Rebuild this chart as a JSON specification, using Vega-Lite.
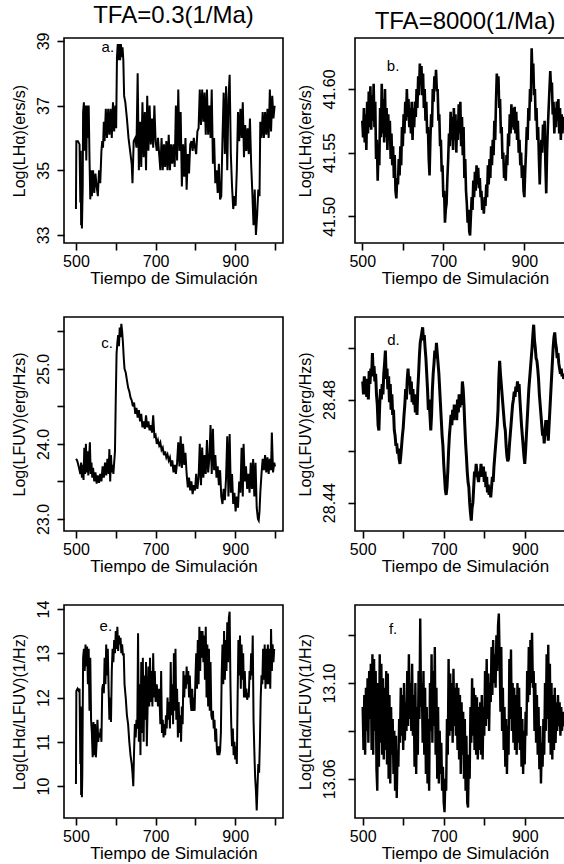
{
"$schema": "https://vega.github.io/schema/vega-lite/v6.json",
"padding": {"left": 10, "top": 3, "right": 0, "bottom": 0},
"background": "white",
"config": {
  "font": "Liberation Sans",
  "view": {"stroke": "#000", "strokeWidth": 1.6},
  "axis": {"grid": false, "domain": false, "tickColor": "#000", "tickWidth": 1.6, "tickSize": 7, "labelColor": "#000", "titleColor": "#000", "labelFontSize": 16, "titleFontSize": 17, "titleFontWeight": "normal", "labelOverlap": false, "labelFlush": false},
  "axisX": {"labelPadding": 3, "titlePadding": 1},
  "axisY": {"labelAngle": 270, "labelPadding": 6, "titlePadding": 8, "titleFontSize": 16},
  "title": {"fontSize": 24, "fontWeight": "normal", "color": "#000", "offset": 4},
  "text": {"fontSize": 15, "color": "#000"},
  "line": {"color": "#000", "strokeWidth": 2.0}
},
"concat": [
 {"width": 219, "height": 205, "title": "TFA=0.3(1/Ma)",
  "layer": [
   {"data": {"name": "a"}, "mark": {"type": "line", "clip": true},
    "encoding": {
     "x": {"field": "t", "type": "quantitative", "scale": {"domain": [470, 1020], "nice": false, "zero": false}, "axis": {"values": [500,600,700,800,900,1000], "format": "d", "labelExpr": "datum.value==500||datum.value==700||datum.value==900 ? datum.label : ''", "title": "Tiempo de Simulación"}},
     "y": {"field": "v", "type": "quantitative", "scale": {"domain": [32.75, 39.09], "nice": false, "zero": false}, "axis": {"values": [33,34,35,36,37,38,39], "format": "d", "labelExpr": "datum.value % 2 == 1 ? datum.label : ''", "title": "Log(LHα)(ers/s)"}}}},
   {"data": {"values": [{"t": 580, "v": 38.81, "lab": "a."}]}, "mark": {"type": "text"},
    "encoding": {"x": {"field": "t", "type": "quantitative"}, "y": {"field": "v", "type": "quantitative"}, "text": {"field": "lab"}}}
  ]},
 {"width": 220, "height": 205, "title": "TFA=8000(1/Ma)",
  "layer": [
   {"data": {"name": "b"}, "mark": {"type": "line", "clip": true, "strokeWidth": 2.6},
    "encoding": {
     "x": {"field": "t", "type": "quantitative", "scale": {"domain": [482, 1025], "nice": false, "zero": false}, "axis": {"values": [500,600,700,800,900,1000], "format": "d", "labelExpr": "datum.value==500||datum.value==700||datum.value==900 ? datum.label : ''", "title": "Tiempo de Simulación"}},
     "y": {"field": "v", "type": "quantitative", "scale": {"domain": [41.479, 41.64], "nice": false, "zero": false}, "axis": {"values": [41.5, 41.55, 41.6], "format": ".2f", "labelPadding": 11, "title": "Log(LHα)(ers/s)"}}}},
   {"data": {"values": [{"t": 576, "v": 41.618, "lab": "b."}]}, "mark": {"type": "text"},
    "encoding": {"x": {"field": "t", "type": "quantitative"}, "y": {"field": "v", "type": "quantitative"}, "text": {"field": "lab"}}}
  ]},
 {"width": 219, "height": 214,
  "layer": [
   {"data": {"name": "c"}, "mark": {"type": "line", "clip": true},
    "encoding": {
     "x": {"field": "t", "type": "quantitative", "scale": {"domain": [470, 1020], "nice": false, "zero": false}, "axis": {"values": [500,600,700,800,900,1000], "format": "d", "labelExpr": "datum.value==500||datum.value==700||datum.value==900 ? datum.label : ''", "title": "Tiempo de Simulación"}},
     "y": {"field": "v", "type": "quantitative", "scale": {"domain": [22.84, 25.69], "nice": false, "zero": false}, "axis": {"values": [23, 23.5, 24, 24.5, 25, 25.5], "format": ".1f", "labelExpr": "datum.value % 1 == 0 ? datum.label : ''", "title": "Log(LFUV)(erg/Hzs)"}}}},
   {"data": {"values": [{"t": 578, "v": 25.35, "lab": "c."}]}, "mark": {"type": "text"},
    "encoding": {"x": {"field": "t", "type": "quantitative"}, "y": {"field": "v", "type": "quantitative"}, "text": {"field": "lab"}}}
  ]},
 {"width": 220, "height": 214,
  "layer": [
   {"data": {"name": "d"}, "mark": {"type": "line", "clip": true, "strokeWidth": 3.0},
    "encoding": {
     "x": {"field": "t", "type": "quantitative", "scale": {"domain": [481, 1024], "nice": false, "zero": false}, "axis": {"values": [500,600,700,800,900,1000], "format": "d", "labelExpr": "datum.value==500||datum.value==700||datum.value==900 ? datum.label : ''", "title": "Tiempo de Simulación"}},
     "y": {"field": "v", "type": "quantitative", "scale": {"domain": [28.429, 28.512], "nice": false, "zero": false}, "axis": {"values": [28.44, 28.46, 28.48, 28.5], "format": ".2f", "labelPadding": 11, "labelExpr": "abs(datum.value-28.44)<0.001 || abs(datum.value-28.48)<0.001 ? datum.label : ''", "title": "Log(LFUV)(erg/Hzs)"}}}},
   {"data": {"values": [{"t": 576, "v": 28.5032, "lab": "d."}]}, "mark": {"type": "text"},
    "encoding": {"x": {"field": "t", "type": "quantitative"}, "y": {"field": "v", "type": "quantitative"}, "text": {"field": "lab"}}}
  ]},
 {"width": 219, "height": 213,
  "layer": [
   {"data": {"name": "e"}, "mark": {"type": "line", "clip": true},
    "encoding": {
     "x": {"field": "t", "type": "quantitative", "scale": {"domain": [470, 1020], "nice": false, "zero": false}, "axis": {"values": [500,600,700,800,900,1000], "format": "d", "labelExpr": "datum.value==500||datum.value==700||datum.value==900 ? datum.label : ''", "title": "Tiempo de Simulación"}},
     "y": {"field": "v", "type": "quantitative", "scale": {"domain": [9.28, 14.09], "nice": false, "zero": false}, "axis": {"values": [10, 11, 12, 13, 14], "format": "d", "title": "Log(LHα/LFUV)(1/Hz)"}}}},
   {"data": {"values": [{"t": 575, "v": 13.62, "lab": "e."}]}, "mark": {"type": "text"},
    "encoding": {"x": {"field": "t", "type": "quantitative"}, "y": {"field": "v", "type": "quantitative"}, "text": {"field": "lab"}}}
  ]},
 {"width": 220, "height": 213,
  "layer": [
   {"data": {"name": "f"}, "mark": {"type": "line", "clip": true, "strokeWidth": 2.4},
    "encoding": {
     "x": {"field": "t", "type": "quantitative", "scale": {"domain": [481, 1024], "nice": false, "zero": false}, "axis": {"values": [500,600,700,800,900,1000], "format": "d", "labelExpr": "datum.value==500||datum.value==700||datum.value==900 ? datum.label : ''", "title": "Tiempo de Simulación"}},
     "y": {"field": "v", "type": "quantitative", "scale": {"domain": [13.0436, 13.1326], "nice": false, "zero": false}, "axis": {"values": [13.06, 13.08, 13.1, 13.12], "format": ".2f", "labelPadding": 11, "labelExpr": "abs(datum.value-13.06)<0.001 || abs(datum.value-13.1)<0.001 ? datum.label : ''", "title": "Log(LHα/LFUV)(1/Hz)"}}}},
   {"data": {"values": [{"t": 575, "v": 13.1225, "lab": "f."}]}, "mark": {"type": "text"},
    "encoding": {"x": {"field": "t", "type": "quantitative"}, "y": {"field": "v", "type": "quantitative"}, "text": {"field": "lab"}}}
  ]}
],
"columns": 2,
"spacing": {"row": 74, "column": 72},
"bounds": "flush",
"datasets": {
"a": [{"t":500,"v":33.8},{"t":501,"v":35.9},{"t":505,"v":35.9},{"t":509,"v":35.8},{"t":511,"v":34.0},{"t":512,"v":35.6},{"t":513,"v":33.3},{"t":514,"v":35.0},{"t":515,"v":33.2},{"t":517,"v":34.5},{"t":518,"v":36.8},{"t":520,"v":37.1},{"t":522,"v":35.6},{"t":524,"v":37.0},{"t":526,"v":35.3},{"t":528,"v":37.0},{"t":530,"v":36.0},{"t":532,"v":37.0},{"t":534,"v":35.4},{"t":536,"v":34.1},{"t":538,"v":35.0},{"t":540,"v":34.2},{"t":543,"v":35.0},{"t":546,"v":34.3},{"t":549,"v":34.9},{"t":552,"v":34.5},{"t":555,"v":34.2},{"t":558,"v":35.0},{"t":561,"v":34.6},{"t":564,"v":35.6},{"t":566,"v":35.9},{"t":568,"v":35.7},{"t":570,"v":36.5},{"t":572,"v":35.9},{"t":575,"v":36.9},{"t":578,"v":36.0},{"t":581,"v":36.9},{"t":584,"v":36.1},{"t":587,"v":36.9},{"t":590,"v":36.0},{"t":593,"v":37.1},{"t":596,"v":36.2},{"t":599,"v":37.0},{"t":601,"v":36.3},{"t":603,"v":38.5},{"t":605,"v":38.9},{"t":607,"v":38.4},{"t":609,"v":38.9},{"t":611,"v":38.4},{"t":613,"v":38.9},{"t":615,"v":38.5},{"t":617,"v":38.8},{"t":619,"v":38.4},{"t":621,"v":37.3},{"t":624,"v":37.1},{"t":628,"v":36.6},{"t":632,"v":36.0},{"t":636,"v":35.6},{"t":640,"v":35.2},{"t":642,"v":34.6},{"t":645,"v":35.9},{"t":649,"v":36.0},{"t":652,"v":35.7},{"t":655,"v":38.0},{"t":658,"v":35.0},{"t":661,"v":36.5},{"t":664,"v":35.1},{"t":667,"v":37.1},{"t":670,"v":35.4},{"t":673,"v":36.8},{"t":676,"v":35.0},{"t":679,"v":37.3},{"t":682,"v":35.6},{"t":685,"v":37.0},{"t":688,"v":35.8},{"t":691,"v":36.6},{"t":694,"v":35.7},{"t":697,"v":37.0},{"t":700,"v":35.9},{"t":703,"v":35.6},{"t":706,"v":36.0},{"t":709,"v":35.5},{"t":712,"v":35.0},{"t":715,"v":36.0},{"t":718,"v":35.0},{"t":721,"v":35.8},{"t":724,"v":35.1},{"t":727,"v":35.9},{"t":730,"v":35.0},{"t":733,"v":36.1},{"t":736,"v":35.0},{"t":739,"v":35.8},{"t":742,"v":35.2},{"t":745,"v":35.8},{"t":748,"v":35.1},{"t":751,"v":37.0},{"t":754,"v":35.3},{"t":757,"v":37.5},{"t":760,"v":35.6},{"t":763,"v":36.8},{"t":766,"v":34.5},{"t":769,"v":35.8},{"t":772,"v":34.8},{"t":775,"v":36.0},{"t":778,"v":34.4},{"t":781,"v":35.5},{"t":784,"v":34.9},{"t":787,"v":35.8},{"t":790,"v":35.9},{"t":793,"v":35.6},{"t":796,"v":36.0},{"t":799,"v":35.7},{"t":802,"v":35.5},{"t":805,"v":36.2},{"t":808,"v":36.3},{"t":811,"v":37.5},{"t":814,"v":36.4},{"t":817,"v":37.5},{"t":820,"v":36.5},{"t":823,"v":37.4},{"t":826,"v":36.1},{"t":829,"v":37.5},{"t":832,"v":36.1},{"t":835,"v":37.0},{"t":838,"v":36.0},{"t":841,"v":37.5},{"t":844,"v":35.2},{"t":847,"v":36.0},{"t":850,"v":34.6},{"t":853,"v":35.0},{"t":856,"v":34.3},{"t":859,"v":35.2},{"t":862,"v":34.1},{"t":865,"v":34.2},{"t":868,"v":36.0},{"t":871,"v":37.4},{"t":874,"v":35.5},{"t":877,"v":37.6},{"t":880,"v":35.0},{"t":883,"v":37.2},{"t":886,"v":37.95},{"t":889,"v":35.5},{"t":892,"v":34.5},{"t":895,"v":33.8},{"t":898,"v":34.2},{"t":901,"v":33.9},{"t":904,"v":35.0},{"t":907,"v":36.8},{"t":910,"v":35.9},{"t":913,"v":36.9},{"t":916,"v":36.0},{"t":919,"v":37.1},{"t":922,"v":35.4},{"t":925,"v":36.4},{"t":928,"v":35.6},{"t":931,"v":36.3},{"t":934,"v":35.5},{"t":937,"v":36.6},{"t":940,"v":35.2},{"t":943,"v":34.3},{"t":946,"v":33.3},{"t":949,"v":34.4},{"t":952,"v":33.0},{"t":955,"v":33.6},{"t":958,"v":34.4},{"t":961,"v":34.2},{"t":963,"v":36.5},{"t":966,"v":36.0},{"t":969,"v":36.8},{"t":972,"v":36.0},{"t":975,"v":36.8},{"t":978,"v":36.1},{"t":981,"v":36.9},{"t":984,"v":36.0},{"t":987,"v":37.5},{"t":990,"v":36.2},{"t":993,"v":37.3},{"t":996,"v":36.6},{"t":999,"v":37.0}],
"b": [{"t":500,"v":41.575},{"t":502,"v":41.562},{"t":504,"v":41.585},{"t":506,"v":41.558},{"t":508,"v":41.58},{"t":510,"v":41.552},{"t":512,"v":41.59},{"t":514,"v":41.565},{"t":516,"v":41.598},{"t":518,"v":41.57},{"t":520,"v":41.602},{"t":522,"v":41.568},{"t":524,"v":41.595},{"t":526,"v":41.575},{"t":528,"v":41.604},{"t":530,"v":41.57},{"t":532,"v":41.59},{"t":534,"v":41.545},{"t":536,"v":41.56},{"t":538,"v":41.528},{"t":540,"v":41.555},{"t":542,"v":41.54},{"t":544,"v":41.585},{"t":546,"v":41.562},{"t":548,"v":41.604},{"t":550,"v":41.565},{"t":552,"v":41.592},{"t":554,"v":41.558},{"t":556,"v":41.6},{"t":558,"v":41.562},{"t":560,"v":41.585},{"t":562,"v":41.552},{"t":564,"v":41.58},{"t":566,"v":41.56},{"t":568,"v":41.575},{"t":570,"v":41.545},{"t":572,"v":41.565},{"t":574,"v":41.54},{"t":576,"v":41.555},{"t":578,"v":41.53},{"t":580,"v":41.548},{"t":582,"v":41.52},{"t":584,"v":41.514},{"t":586,"v":41.53},{"t":588,"v":41.525},{"t":590,"v":41.545},{"t":592,"v":41.532},{"t":594,"v":41.555},{"t":596,"v":41.54},{"t":598,"v":41.57},{"t":600,"v":41.555},{"t":602,"v":41.58},{"t":604,"v":41.565},{"t":606,"v":41.59},{"t":608,"v":41.575},{"t":610,"v":41.6},{"t":612,"v":41.578},{"t":614,"v":41.592},{"t":616,"v":41.57},{"t":618,"v":41.585},{"t":620,"v":41.565},{"t":622,"v":41.59},{"t":624,"v":41.56},{"t":626,"v":41.585},{"t":628,"v":41.57},{"t":630,"v":41.59},{"t":632,"v":41.578},{"t":634,"v":41.6},{"t":636,"v":41.585},{"t":638,"v":41.61},{"t":640,"v":41.595},{"t":642,"v":41.62},{"t":644,"v":41.605},{"t":646,"v":41.618},{"t":648,"v":41.595},{"t":650,"v":41.612},{"t":652,"v":41.585},{"t":654,"v":41.6},{"t":656,"v":41.575},{"t":658,"v":41.59},{"t":660,"v":41.565},{"t":662,"v":41.57},{"t":664,"v":41.545},{"t":666,"v":41.532},{"t":668,"v":41.56},{"t":670,"v":41.58},{"t":672,"v":41.57},{"t":674,"v":41.6},{"t":676,"v":41.59},{"t":678,"v":41.61},{"t":680,"v":41.6},{"t":682,"v":41.615},{"t":684,"v":41.598},{"t":686,"v":41.6},{"t":688,"v":41.575},{"t":690,"v":41.58},{"t":692,"v":41.555},{"t":694,"v":41.56},{"t":696,"v":41.535},{"t":698,"v":41.54},{"t":700,"v":41.515},{"t":702,"v":41.52},{"t":704,"v":41.495},{"t":706,"v":41.505},{"t":708,"v":41.51},{"t":710,"v":41.53},{"t":712,"v":41.545},{"t":714,"v":41.565},{"t":716,"v":41.555},{"t":718,"v":41.582},{"t":720,"v":41.56},{"t":722,"v":41.578},{"t":724,"v":41.552},{"t":726,"v":41.585},{"t":728,"v":41.56},{"t":730,"v":41.58},{"t":732,"v":41.55},{"t":734,"v":41.575},{"t":736,"v":41.56},{"t":738,"v":41.588},{"t":740,"v":41.565},{"t":742,"v":41.59},{"t":744,"v":41.555},{"t":746,"v":41.578},{"t":748,"v":41.548},{"t":750,"v":41.57},{"t":752,"v":41.53},{"t":754,"v":41.545},{"t":756,"v":41.52},{"t":758,"v":41.51},{"t":760,"v":41.495},{"t":762,"v":41.505},{"t":764,"v":41.488},{"t":766,"v":41.485},{"t":768,"v":41.5},{"t":770,"v":41.515},{"t":772,"v":41.505},{"t":774,"v":41.528},{"t":776,"v":41.515},{"t":778,"v":41.535},{"t":780,"v":41.52},{"t":782,"v":41.54},{"t":784,"v":41.525},{"t":786,"v":41.538},{"t":788,"v":41.522},{"t":790,"v":41.53},{"t":792,"v":41.515},{"t":794,"v":41.52},{"t":796,"v":41.505},{"t":798,"v":41.512},{"t":800,"v":41.502},{"t":802,"v":41.515},{"t":804,"v":41.508},{"t":806,"v":41.525},{"t":808,"v":41.515},{"t":810,"v":41.54},{"t":812,"v":41.525},{"t":814,"v":41.545},{"t":816,"v":41.53},{"t":818,"v":41.555},{"t":820,"v":41.54},{"t":822,"v":41.56},{"t":824,"v":41.548},{"t":826,"v":41.575},{"t":828,"v":41.56},{"t":830,"v":41.59},{"t":832,"v":41.612},{"t":834,"v":41.598},{"t":836,"v":41.61},{"t":838,"v":41.585},{"t":840,"v":41.592},{"t":842,"v":41.565},{"t":844,"v":41.57},{"t":846,"v":41.545},{"t":848,"v":41.55},{"t":850,"v":41.53},{"t":852,"v":41.535},{"t":854,"v":41.528},{"t":856,"v":41.548},{"t":858,"v":41.54},{"t":860,"v":41.565},{"t":862,"v":41.555},{"t":864,"v":41.58},{"t":866,"v":41.565},{"t":868,"v":41.588},{"t":870,"v":41.57},{"t":872,"v":41.585},{"t":874,"v":41.568},{"t":876,"v":41.586},{"t":878,"v":41.565},{"t":880,"v":41.582},{"t":882,"v":41.56},{"t":884,"v":41.575},{"t":886,"v":41.55},{"t":888,"v":41.56},{"t":890,"v":41.54},{"t":892,"v":41.55},{"t":894,"v":41.53},{"t":896,"v":41.54},{"t":898,"v":41.52},{"t":900,"v":41.515},{"t":902,"v":41.535},{"t":904,"v":41.55},{"t":906,"v":41.57},{"t":908,"v":41.56},{"t":910,"v":41.585},{"t":912,"v":41.575},{"t":914,"v":41.6},{"t":916,"v":41.59},{"t":918,"v":41.632},{"t":920,"v":41.61},{"t":922,"v":41.62},{"t":924,"v":41.595},{"t":926,"v":41.6},{"t":928,"v":41.575},{"t":930,"v":41.585},{"t":932,"v":41.56},{"t":934,"v":41.57},{"t":936,"v":41.545},{"t":938,"v":41.525},{"t":940,"v":41.548},{"t":942,"v":41.56},{"t":944,"v":41.55},{"t":946,"v":41.572},{"t":948,"v":41.56},{"t":950,"v":41.575},{"t":952,"v":41.54},{"t":954,"v":41.518},{"t":956,"v":41.55},{"t":958,"v":41.57},{"t":960,"v":41.585},{"t":962,"v":41.6},{"t":964,"v":41.614},{"t":966,"v":41.598},{"t":968,"v":41.605},{"t":970,"v":41.58},{"t":972,"v":41.59},{"t":974,"v":41.565},{"t":976,"v":41.585},{"t":978,"v":41.57},{"t":980,"v":41.59},{"t":982,"v":41.575},{"t":984,"v":41.592},{"t":986,"v":41.565},{"t":988,"v":41.585},{"t":990,"v":41.56},{"t":992,"v":41.58},{"t":994,"v":41.565},{"t":996,"v":41.578},{"t":998,"v":41.572}],
"c": [{"t":500,"v":23.8},{"t":503,"v":23.78},{"t":506,"v":23.72},{"t":509,"v":23.65},{"t":511,"v":23.6},{"t":513,"v":23.75},{"t":515,"v":23.55},{"t":517,"v":23.72},{"t":519,"v":23.52},{"t":521,"v":23.95},{"t":523,"v":23.6},{"t":525,"v":24.0},{"t":527,"v":23.62},{"t":529,"v":23.9},{"t":531,"v":23.58},{"t":533,"v":23.8},{"t":535,"v":24.02},{"t":537,"v":23.6},{"t":539,"v":23.75},{"t":541,"v":23.55},{"t":543,"v":23.68},{"t":546,"v":23.5},{"t":549,"v":23.62},{"t":552,"v":23.47},{"t":555,"v":23.58},{"t":558,"v":23.48},{"t":561,"v":23.6},{"t":564,"v":23.5},{"t":567,"v":23.7},{"t":570,"v":23.55},{"t":573,"v":23.75},{"t":576,"v":23.58},{"t":579,"v":23.8},{"t":582,"v":23.6},{"t":584,"v":23.93},{"t":586,"v":23.5},{"t":588,"v":23.85},{"t":590,"v":23.62},{"t":592,"v":23.72},{"t":594,"v":23.6},{"t":596,"v":23.75},{"t":598,"v":23.9},{"t":600,"v":24.6},{"t":602,"v":25.2},{"t":604,"v":25.35},{"t":606,"v":25.45},{"t":608,"v":25.3},{"t":610,"v":25.55},{"t":612,"v":25.42},{"t":614,"v":25.6},{"t":616,"v":25.5},{"t":618,"v":25.35},{"t":620,"v":25.15},{"t":622,"v":25.0},{"t":625,"v":24.95},{"t":628,"v":24.85},{"t":631,"v":24.75},{"t":634,"v":24.7},{"t":637,"v":24.62},{"t":640,"v":24.58},{"t":643,"v":24.5},{"t":646,"v":24.55},{"t":649,"v":24.4},{"t":652,"v":24.48},{"t":655,"v":24.35},{"t":658,"v":24.45},{"t":661,"v":24.3},{"t":664,"v":24.4},{"t":667,"v":24.22},{"t":670,"v":24.3},{"t":673,"v":24.2},{"t":676,"v":24.38},{"t":679,"v":24.22},{"t":682,"v":24.3},{"t":685,"v":24.18},{"t":688,"v":24.25},{"t":691,"v":24.15},{"t":694,"v":24.38},{"t":697,"v":24.1},{"t":700,"v":24.12},{"t":703,"v":24.0},{"t":706,"v":24.05},{"t":709,"v":23.98},{"t":712,"v":24.02},{"t":715,"v":23.92},{"t":718,"v":23.95},{"t":721,"v":23.85},{"t":724,"v":23.9},{"t":727,"v":23.82},{"t":730,"v":23.86},{"t":733,"v":23.78},{"t":736,"v":23.82},{"t":739,"v":23.7},{"t":742,"v":23.78},{"t":745,"v":23.62},{"t":748,"v":23.72},{"t":751,"v":23.6},{"t":754,"v":23.75},{"t":757,"v":24.02},{"t":760,"v":23.7},{"t":763,"v":24.1},{"t":766,"v":23.68},{"t":769,"v":24.0},{"t":772,"v":23.72},{"t":775,"v":23.88},{"t":778,"v":23.6},{"t":781,"v":23.42},{"t":784,"v":23.55},{"t":787,"v":23.38},{"t":790,"v":23.5},{"t":793,"v":23.33},{"t":796,"v":23.45},{"t":799,"v":23.38},{"t":802,"v":23.6},{"t":805,"v":23.4},{"t":808,"v":23.55},{"t":811,"v":24.0},{"t":814,"v":23.45},{"t":817,"v":23.95},{"t":820,"v":23.55},{"t":823,"v":23.85},{"t":826,"v":23.6},{"t":829,"v":24.05},{"t":832,"v":23.62},{"t":835,"v":23.8},{"t":838,"v":24.25},{"t":841,"v":23.6},{"t":844,"v":24.2},{"t":847,"v":23.65},{"t":850,"v":23.85},{"t":853,"v":23.55},{"t":856,"v":23.7},{"t":859,"v":23.45},{"t":862,"v":23.65},{"t":865,"v":23.3},{"t":868,"v":23.2},{"t":871,"v":23.4},{"t":874,"v":23.25},{"t":877,"v":23.55},{"t":880,"v":24.1},{"t":883,"v":23.3},{"t":886,"v":24.13},{"t":889,"v":23.35},{"t":892,"v":23.6},{"t":895,"v":23.2},{"t":898,"v":23.35},{"t":901,"v":23.1},{"t":904,"v":23.3},{"t":907,"v":23.15},{"t":910,"v":23.5},{"t":913,"v":23.35},{"t":916,"v":23.95},{"t":919,"v":23.3},{"t":921,"v":24.0},{"t":924,"v":23.5},{"t":927,"v":23.7},{"t":930,"v":23.4},{"t":933,"v":23.6},{"t":936,"v":23.35},{"t":939,"v":23.75},{"t":942,"v":23.4},{"t":945,"v":23.8},{"t":948,"v":23.3},{"t":951,"v":23.75},{"t":954,"v":23.15},{"t":957,"v":23.0},{"t":959,"v":22.98},{"t":961,"v":23.1},{"t":963,"v":23.35},{"t":966,"v":23.6},{"t":969,"v":23.8},{"t":972,"v":23.65},{"t":975,"v":23.85},{"t":978,"v":23.62},{"t":981,"v":23.82},{"t":984,"v":23.6},{"t":987,"v":23.8},{"t":990,"v":23.65},{"t":992,"v":24.15},{"t":995,"v":23.62},{"t":998,"v":23.75},{"t":1000,"v":23.7}],
"d": [{"t":500,"v":28.487},{"t":502,"v":28.482},{"t":504,"v":28.489},{"t":506,"v":28.483},{"t":508,"v":28.486},{"t":510,"v":28.481},{"t":512,"v":28.488},{"t":514,"v":28.48},{"t":516,"v":28.491},{"t":518,"v":28.486},{"t":520,"v":28.492},{"t":522,"v":28.489},{"t":524,"v":28.498},{"t":526,"v":28.49},{"t":528,"v":28.493},{"t":530,"v":28.487},{"t":532,"v":28.49},{"t":534,"v":28.482},{"t":536,"v":28.478},{"t":538,"v":28.47},{"t":540,"v":28.468},{"t":542,"v":28.478},{"t":544,"v":28.484},{"t":546,"v":28.48},{"t":548,"v":28.486},{"t":550,"v":28.482},{"t":552,"v":28.49},{"t":554,"v":28.494},{"t":556,"v":28.499},{"t":558,"v":28.488},{"t":560,"v":28.492},{"t":562,"v":28.484},{"t":564,"v":28.489},{"t":566,"v":28.479},{"t":568,"v":28.486},{"t":570,"v":28.476},{"t":572,"v":28.482},{"t":574,"v":28.474},{"t":576,"v":28.476},{"t":578,"v":28.468},{"t":580,"v":28.466},{"t":582,"v":28.462},{"t":584,"v":28.463},{"t":586,"v":28.459},{"t":588,"v":28.461},{"t":590,"v":28.457},{"t":592,"v":28.455},{"t":594,"v":28.458},{"t":596,"v":28.462},{"t":598,"v":28.466},{"t":600,"v":28.469},{"t":602,"v":28.474},{"t":604,"v":28.478},{"t":606,"v":28.484},{"t":608,"v":28.48},{"t":610,"v":28.488},{"t":612,"v":28.492},{"t":614,"v":28.486},{"t":616,"v":28.489},{"t":618,"v":28.482},{"t":620,"v":28.487},{"t":622,"v":28.479},{"t":624,"v":28.484},{"t":626,"v":28.478},{"t":628,"v":28.482},{"t":630,"v":28.475},{"t":632,"v":28.48},{"t":634,"v":28.474},{"t":636,"v":28.484},{"t":638,"v":28.49},{"t":640,"v":28.497},{"t":642,"v":28.502},{"t":644,"v":28.504},{"t":646,"v":28.506},{"t":648,"v":28.508},{"t":650,"v":28.503},{"t":652,"v":28.505},{"t":654,"v":28.5},{"t":656,"v":28.496},{"t":658,"v":28.49},{"t":660,"v":28.484},{"t":662,"v":28.476},{"t":664,"v":28.48},{"t":666,"v":28.474},{"t":668,"v":28.468},{"t":670,"v":28.474},{"t":672,"v":28.484},{"t":674,"v":28.49},{"t":676,"v":28.494},{"t":678,"v":28.499},{"t":680,"v":28.496},{"t":682,"v":28.502},{"t":684,"v":28.498},{"t":686,"v":28.494},{"t":688,"v":28.49},{"t":690,"v":28.484},{"t":692,"v":28.478},{"t":694,"v":28.472},{"t":696,"v":28.466},{"t":698,"v":28.462},{"t":700,"v":28.455},{"t":702,"v":28.45},{"t":704,"v":28.445},{"t":706,"v":28.443},{"t":708,"v":28.446},{"t":710,"v":28.452},{"t":712,"v":28.46},{"t":714,"v":28.466},{"t":716,"v":28.47},{"t":718,"v":28.474},{"t":720,"v":28.47},{"t":722,"v":28.476},{"t":724,"v":28.472},{"t":726,"v":28.478},{"t":728,"v":28.474},{"t":730,"v":28.478},{"t":732,"v":28.472},{"t":734,"v":28.48},{"t":736,"v":28.475},{"t":738,"v":28.482},{"t":740,"v":28.477},{"t":742,"v":28.48},{"t":744,"v":28.478},{"t":746,"v":28.487},{"t":748,"v":28.484},{"t":750,"v":28.478},{"t":752,"v":28.47},{"t":754,"v":28.463},{"t":756,"v":28.458},{"t":758,"v":28.452},{"t":760,"v":28.448},{"t":762,"v":28.446},{"t":764,"v":28.44},{"t":766,"v":28.436},{"t":768,"v":28.433},{"t":770,"v":28.438},{"t":772,"v":28.44},{"t":774,"v":28.446},{"t":776,"v":28.452},{"t":778,"v":28.45},{"t":780,"v":28.455},{"t":782,"v":28.452},{"t":784,"v":28.45},{"t":786,"v":28.448},{"t":788,"v":28.452},{"t":790,"v":28.45},{"t":792,"v":28.455},{"t":794,"v":28.452},{"t":796,"v":28.45},{"t":798,"v":28.454},{"t":800,"v":28.448},{"t":802,"v":28.452},{"t":804,"v":28.446},{"t":806,"v":28.45},{"t":808,"v":28.444},{"t":810,"v":28.447},{"t":812,"v":28.443},{"t":814,"v":28.446},{"t":816,"v":28.442},{"t":818,"v":28.446},{"t":820,"v":28.45},{"t":822,"v":28.448},{"t":824,"v":28.454},{"t":826,"v":28.458},{"t":828,"v":28.462},{"t":830,"v":28.466},{"t":832,"v":28.47},{"t":834,"v":28.476},{"t":836,"v":28.488},{"t":838,"v":28.495},{"t":840,"v":28.49},{"t":842,"v":28.486},{"t":844,"v":28.482},{"t":846,"v":28.478},{"t":848,"v":28.474},{"t":850,"v":28.47},{"t":852,"v":28.468},{"t":854,"v":28.462},{"t":856,"v":28.458},{"t":858,"v":28.456},{"t":860,"v":28.457},{"t":862,"v":28.462},{"t":864,"v":28.466},{"t":866,"v":28.47},{"t":868,"v":28.474},{"t":870,"v":28.478},{"t":872,"v":28.48},{"t":874,"v":28.483},{"t":876,"v":28.481},{"t":878,"v":28.485},{"t":880,"v":28.483},{"t":882,"v":28.487},{"t":884,"v":28.484},{"t":886,"v":28.486},{"t":888,"v":28.48},{"t":890,"v":28.475},{"t":892,"v":28.47},{"t":894,"v":28.466},{"t":896,"v":28.462},{"t":898,"v":28.458},{"t":900,"v":28.455},{"t":902,"v":28.46},{"t":904,"v":28.466},{"t":906,"v":28.472},{"t":908,"v":28.478},{"t":910,"v":28.484},{"t":912,"v":28.488},{"t":914,"v":28.492},{"t":916,"v":28.496},{"t":918,"v":28.5},{"t":920,"v":28.505},{"t":922,"v":28.509},{"t":924,"v":28.503},{"t":926,"v":28.5},{"t":928,"v":28.496},{"t":930,"v":28.495},{"t":932,"v":28.492},{"t":934,"v":28.488},{"t":936,"v":28.482},{"t":938,"v":28.478},{"t":940,"v":28.474},{"t":942,"v":28.47},{"t":944,"v":28.466},{"t":946,"v":28.468},{"t":948,"v":28.463},{"t":950,"v":28.468},{"t":952,"v":28.472},{"t":954,"v":28.466},{"t":956,"v":28.472},{"t":958,"v":28.464},{"t":960,"v":28.47},{"t":962,"v":28.476},{"t":964,"v":28.482},{"t":966,"v":28.488},{"t":968,"v":28.494},{"t":970,"v":28.5},{"t":972,"v":28.504},{"t":974,"v":28.506},{"t":976,"v":28.502},{"t":978,"v":28.5},{"t":980,"v":28.496},{"t":982,"v":28.498},{"t":984,"v":28.494},{"t":986,"v":28.492},{"t":988,"v":28.49},{"t":990,"v":28.492},{"t":992,"v":28.489},{"t":994,"v":28.49},{"t":996,"v":28.488},{"t":998,"v":28.489}],
"e": [{"t":500,"v":10.05},{"t":501,"v":12.15},{"t":504,"v":12.2},{"t":507,"v":12.15},{"t":509,"v":12.2},{"t":511,"v":10.5},{"t":512,"v":11.8},{"t":513,"v":9.8},{"t":514,"v":11.0},{"t":515,"v":9.75},{"t":516,"v":10.3},{"t":518,"v":12.9},{"t":520,"v":13.1},{"t":522,"v":12.6},{"t":524,"v":13.2},{"t":526,"v":12.7},{"t":528,"v":13.15},{"t":530,"v":12.3},{"t":532,"v":13.1},{"t":534,"v":11.7},{"t":536,"v":12.9},{"t":538,"v":11.5},{"t":540,"v":11.2},{"t":542,"v":10.65},{"t":544,"v":11.45},{"t":546,"v":10.7},{"t":548,"v":11.4},{"t":550,"v":10.65},{"t":552,"v":11.0},{"t":554,"v":11.5},{"t":556,"v":11.0},{"t":558,"v":11.2},{"t":560,"v":11.1},{"t":562,"v":11.3},{"t":564,"v":11.0},{"t":566,"v":12.2},{"t":568,"v":12.3},{"t":570,"v":12.1},{"t":572,"v":12.9},{"t":574,"v":12.3},{"t":576,"v":13.2},{"t":578,"v":12.5},{"t":580,"v":13.1},{"t":582,"v":12.2},{"t":584,"v":11.5},{"t":586,"v":12.0},{"t":588,"v":11.45},{"t":590,"v":12.6},{"t":592,"v":13.1},{"t":594,"v":12.8},{"t":596,"v":13.3},{"t":598,"v":13.0},{"t":600,"v":13.5},{"t":602,"v":13.1},{"t":604,"v":13.6},{"t":606,"v":13.05},{"t":608,"v":13.4},{"t":610,"v":13.2},{"t":612,"v":13.35},{"t":614,"v":13.0},{"t":616,"v":13.2},{"t":618,"v":12.95},{"t":620,"v":13.0},{"t":622,"v":12.3},{"t":625,"v":12.0},{"t":628,"v":11.6},{"t":631,"v":11.4},{"t":634,"v":11.0},{"t":637,"v":10.7},{"t":640,"v":10.5},{"t":642,"v":10.3},{"t":644,"v":10.0},{"t":646,"v":10.8},{"t":648,"v":11.4},{"t":650,"v":11.1},{"t":652,"v":11.5},{"t":654,"v":11.3},{"t":656,"v":13.45},{"t":658,"v":11.0},{"t":660,"v":12.3},{"t":662,"v":10.7},{"t":664,"v":12.8},{"t":666,"v":11.2},{"t":668,"v":12.9},{"t":670,"v":11.0},{"t":672,"v":12.5},{"t":674,"v":11.5},{"t":676,"v":12.8},{"t":678,"v":10.9},{"t":680,"v":11.8},{"t":682,"v":12.7},{"t":684,"v":11.8},{"t":686,"v":12.9},{"t":688,"v":11.9},{"t":690,"v":12.6},{"t":692,"v":11.8},{"t":694,"v":13.0},{"t":696,"v":12.0},{"t":698,"v":12.6},{"t":700,"v":11.9},{"t":703,"v":12.3},{"t":706,"v":11.8},{"t":709,"v":12.2},{"t":712,"v":11.4},{"t":714,"v":12.6},{"t":716,"v":11.2},{"t":718,"v":11.5},{"t":720,"v":11.1},{"t":722,"v":11.4},{"t":724,"v":11.15},{"t":726,"v":11.6},{"t":728,"v":11.3},{"t":730,"v":12.0},{"t":732,"v":11.5},{"t":734,"v":11.9},{"t":736,"v":11.3},{"t":738,"v":12.8},{"t":740,"v":11.6},{"t":742,"v":12.3},{"t":744,"v":11.4},{"t":746,"v":13.0},{"t":748,"v":11.7},{"t":750,"v":13.1},{"t":752,"v":11.5},{"t":754,"v":12.2},{"t":756,"v":11.1},{"t":758,"v":11.9},{"t":760,"v":11.2},{"t":762,"v":11.6},{"t":764,"v":11.0},{"t":766,"v":11.8},{"t":768,"v":11.4},{"t":770,"v":12.6},{"t":772,"v":12.0},{"t":774,"v":12.5},{"t":776,"v":12.2},{"t":778,"v":12.7},{"t":780,"v":12.3},{"t":782,"v":12.6},{"t":784,"v":12.0},{"t":786,"v":12.5},{"t":788,"v":11.9},{"t":790,"v":11.7},{"t":792,"v":12.2},{"t":794,"v":11.7},{"t":796,"v":12.0},{"t":798,"v":11.7},{"t":800,"v":12.4},{"t":802,"v":13.0},{"t":804,"v":12.2},{"t":806,"v":13.3},{"t":808,"v":12.3},{"t":810,"v":13.6},{"t":812,"v":12.6},{"t":814,"v":13.5},{"t":816,"v":12.9},{"t":818,"v":13.5},{"t":820,"v":12.8},{"t":822,"v":13.4},{"t":824,"v":12.4},{"t":826,"v":13.6},{"t":828,"v":12.0},{"t":830,"v":13.2},{"t":832,"v":11.8},{"t":834,"v":13.1},{"t":836,"v":11.7},{"t":838,"v":12.8},{"t":840,"v":11.6},{"t":842,"v":11.5},{"t":844,"v":11.7},{"t":846,"v":11.3},{"t":848,"v":11.5},{"t":850,"v":11.0},{"t":852,"v":11.3},{"t":854,"v":10.8},{"t":856,"v":10.7},{"t":858,"v":10.9},{"t":860,"v":10.7},{"t":862,"v":10.8},{"t":864,"v":11.2},{"t":866,"v":12.5},{"t":868,"v":13.2},{"t":870,"v":12.3},{"t":872,"v":13.5},{"t":874,"v":12.4},{"t":876,"v":13.3},{"t":878,"v":12.6},{"t":880,"v":13.7},{"t":882,"v":12.8},{"t":884,"v":13.8},{"t":886,"v":13.94},{"t":888,"v":12.3},{"t":890,"v":11.4},{"t":892,"v":10.9},{"t":894,"v":11.3},{"t":896,"v":10.7},{"t":898,"v":11.0},{"t":900,"v":10.6},{"t":902,"v":10.9},{"t":904,"v":10.5},{"t":906,"v":12.0},{"t":908,"v":13.3},{"t":910,"v":12.5},{"t":912,"v":13.4},{"t":914,"v":12.2},{"t":916,"v":13.2},{"t":918,"v":12.4},{"t":920,"v":13.0},{"t":922,"v":12.0},{"t":924,"v":12.6},{"t":926,"v":12.0},{"t":928,"v":12.2},{"t":930,"v":11.95},{"t":932,"v":12.1},{"t":934,"v":12.0},{"t":936,"v":12.6},{"t":938,"v":12.4},{"t":940,"v":13.0},{"t":942,"v":12.5},{"t":944,"v":13.4},{"t":946,"v":11.5},{"t":948,"v":10.8},{"t":950,"v":10.2},{"t":952,"v":9.9},{"t":954,"v":9.45},{"t":956,"v":10.0},{"t":958,"v":10.5},{"t":960,"v":10.3},{"t":962,"v":11.0},{"t":964,"v":12.0},{"t":966,"v":12.5},{"t":968,"v":12.3},{"t":970,"v":13.1},{"t":972,"v":12.4},{"t":974,"v":13.2},{"t":976,"v":12.2},{"t":978,"v":13.1},{"t":980,"v":12.3},{"t":982,"v":13.2},{"t":984,"v":12.3},{"t":986,"v":13.1},{"t":988,"v":12.2},{"t":990,"v":13.55},{"t":992,"v":12.6},{"t":994,"v":13.2},{"t":996,"v":12.8},{"t":998,"v":13.1}],
"f": [{"t":500,"v":13.09},{"t":502,"v":13.072},{"t":504,"v":13.095},{"t":506,"v":13.07},{"t":508,"v":13.098},{"t":510,"v":13.08},{"t":512,"v":13.102},{"t":514,"v":13.075},{"t":516,"v":13.105},{"t":518,"v":13.085},{"t":520,"v":13.108},{"t":522,"v":13.072},{"t":524,"v":13.112},{"t":526,"v":13.07},{"t":528,"v":13.11},{"t":530,"v":13.08},{"t":532,"v":13.105},{"t":534,"v":13.064},{"t":536,"v":13.055},{"t":538,"v":13.1},{"t":540,"v":13.065},{"t":542,"v":13.112},{"t":544,"v":13.075},{"t":546,"v":13.108},{"t":548,"v":13.07},{"t":550,"v":13.102},{"t":552,"v":13.068},{"t":554,"v":13.098},{"t":556,"v":13.072},{"t":558,"v":13.105},{"t":560,"v":13.066},{"t":562,"v":13.104},{"t":564,"v":13.06},{"t":566,"v":13.095},{"t":568,"v":13.058},{"t":570,"v":13.09},{"t":572,"v":13.07},{"t":574,"v":13.085},{"t":576,"v":13.062},{"t":578,"v":13.08},{"t":580,"v":13.055},{"t":582,"v":13.078},{"t":584,"v":13.052},{"t":586,"v":13.072},{"t":588,"v":13.065},{"t":590,"v":13.085},{"t":592,"v":13.075},{"t":594,"v":13.098},{"t":596,"v":13.078},{"t":598,"v":13.095},{"t":600,"v":13.072},{"t":602,"v":13.1},{"t":604,"v":13.076},{"t":606,"v":13.092},{"t":608,"v":13.08},{"t":610,"v":13.105},{"t":612,"v":13.082},{"t":614,"v":13.112},{"t":616,"v":13.085},{"t":618,"v":13.1},{"t":620,"v":13.08},{"t":622,"v":13.108},{"t":624,"v":13.078},{"t":626,"v":13.095},{"t":628,"v":13.065},{"t":630,"v":13.1},{"t":632,"v":13.062},{"t":634,"v":13.09},{"t":636,"v":13.07},{"t":638,"v":13.105},{"t":640,"v":13.085},{"t":642,"v":13.127},{"t":644,"v":13.09},{"t":646,"v":13.1},{"t":648,"v":13.075},{"t":650,"v":13.105},{"t":652,"v":13.07},{"t":654,"v":13.098},{"t":656,"v":13.062},{"t":658,"v":13.09},{"t":660,"v":13.058},{"t":662,"v":13.085},{"t":664,"v":13.055},{"t":666,"v":13.1},{"t":668,"v":13.08},{"t":670,"v":13.112},{"t":672,"v":13.075},{"t":674,"v":13.105},{"t":676,"v":13.082},{"t":678,"v":13.115},{"t":680,"v":13.07},{"t":682,"v":13.098},{"t":684,"v":13.06},{"t":686,"v":13.09},{"t":688,"v":13.058},{"t":690,"v":13.08},{"t":692,"v":13.062},{"t":694,"v":13.075},{"t":696,"v":13.055},{"t":698,"v":13.065},{"t":700,"v":13.05},{"t":702,"v":13.046},{"t":704,"v":13.06},{"t":706,"v":13.055},{"t":708,"v":13.085},{"t":710,"v":13.07},{"t":712,"v":13.11},{"t":714,"v":13.078},{"t":716,"v":13.104},{"t":718,"v":13.08},{"t":720,"v":13.1},{"t":722,"v":13.075},{"t":724,"v":13.106},{"t":726,"v":13.082},{"t":728,"v":13.098},{"t":730,"v":13.078},{"t":732,"v":13.1},{"t":734,"v":13.072},{"t":736,"v":13.098},{"t":738,"v":13.068},{"t":740,"v":13.095},{"t":742,"v":13.062},{"t":744,"v":13.092},{"t":746,"v":13.07},{"t":748,"v":13.088},{"t":750,"v":13.06},{"t":752,"v":13.085},{"t":754,"v":13.055},{"t":756,"v":13.078},{"t":758,"v":13.05},{"t":760,"v":13.048},{"t":762,"v":13.07},{"t":764,"v":13.06},{"t":766,"v":13.09},{"t":768,"v":13.075},{"t":770,"v":13.102},{"t":772,"v":13.078},{"t":774,"v":13.098},{"t":776,"v":13.072},{"t":778,"v":13.095},{"t":780,"v":13.07},{"t":782,"v":13.094},{"t":784,"v":13.068},{"t":786,"v":13.09},{"t":788,"v":13.072},{"t":790,"v":13.092},{"t":792,"v":13.07},{"t":794,"v":13.095},{"t":796,"v":13.068},{"t":798,"v":13.09},{"t":800,"v":13.078},{"t":802,"v":13.105},{"t":804,"v":13.082},{"t":806,"v":13.11},{"t":808,"v":13.085},{"t":810,"v":13.104},{"t":812,"v":13.08},{"t":814,"v":13.1},{"t":816,"v":13.092},{"t":818,"v":13.115},{"t":820,"v":13.095},{"t":822,"v":13.118},{"t":824,"v":13.1},{"t":826,"v":13.112},{"t":828,"v":13.098},{"t":830,"v":13.12},{"t":832,"v":13.105},{"t":834,"v":13.124},{"t":836,"v":13.129},{"t":838,"v":13.11},{"t":840,"v":13.088},{"t":842,"v":13.115},{"t":844,"v":13.08},{"t":846,"v":13.098},{"t":848,"v":13.072},{"t":850,"v":13.09},{"t":852,"v":13.065},{"t":854,"v":13.085},{"t":856,"v":13.062},{"t":858,"v":13.082},{"t":860,"v":13.07},{"t":862,"v":13.11},{"t":864,"v":13.085},{"t":866,"v":13.114},{"t":868,"v":13.08},{"t":870,"v":13.1},{"t":872,"v":13.075},{"t":874,"v":13.098},{"t":876,"v":13.072},{"t":878,"v":13.095},{"t":880,"v":13.07},{"t":882,"v":13.1},{"t":884,"v":13.075},{"t":886,"v":13.098},{"t":888,"v":13.072},{"t":890,"v":13.09},{"t":892,"v":13.065},{"t":894,"v":13.085},{"t":896,"v":13.062},{"t":898,"v":13.08},{"t":900,"v":13.066},{"t":902,"v":13.088},{"t":904,"v":13.078},{"t":906,"v":13.105},{"t":908,"v":13.092},{"t":910,"v":13.115},{"t":912,"v":13.095},{"t":914,"v":13.118},{"t":916,"v":13.1},{"t":918,"v":13.121},{"t":920,"v":13.098},{"t":922,"v":13.105},{"t":924,"v":13.08},{"t":926,"v":13.1},{"t":928,"v":13.075},{"t":930,"v":13.095},{"t":932,"v":13.07},{"t":934,"v":13.09},{"t":936,"v":13.064},{"t":938,"v":13.082},{"t":940,"v":13.058},{"t":942,"v":13.075},{"t":944,"v":13.065},{"t":946,"v":13.085},{"t":948,"v":13.07},{"t":950,"v":13.1},{"t":952,"v":13.08},{"t":954,"v":13.112},{"t":956,"v":13.085},{"t":958,"v":13.116},{"t":960,"v":13.075},{"t":962,"v":13.108},{"t":964,"v":13.07},{"t":966,"v":13.1},{"t":968,"v":13.068},{"t":970,"v":13.095},{"t":972,"v":13.072},{"t":974,"v":13.098},{"t":976,"v":13.075},{"t":978,"v":13.092},{"t":980,"v":13.08},{"t":982,"v":13.095},{"t":984,"v":13.082},{"t":986,"v":13.092},{"t":988,"v":13.078},{"t":990,"v":13.09},{"t":992,"v":13.08},{"t":994,"v":13.088},{"t":996,"v":13.082},{"t":998,"v":13.086}]
}
}
